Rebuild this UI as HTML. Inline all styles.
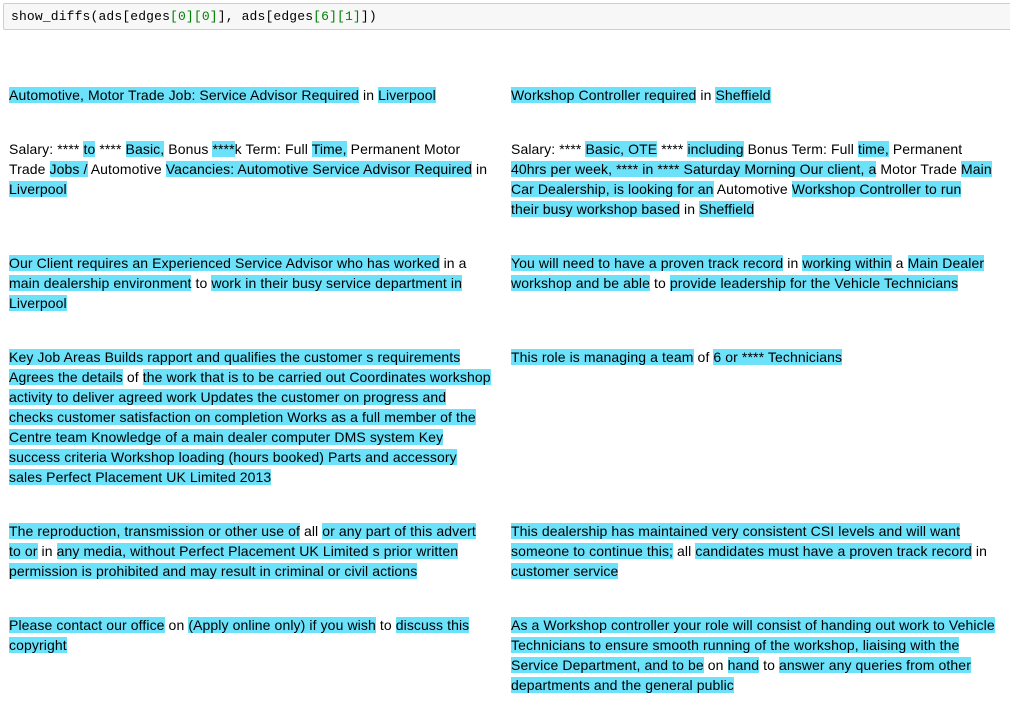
<!DOCTYPE html>
<html><head><meta charset="utf-8"><style>
body{margin:0;width:1010px;height:710px;background:#fff;overflow:hidden;position:relative;font-family:"Liberation Sans",Arial,sans-serif;font-size:14px;color:#000}
.code{position:absolute;left:3px;top:3px;width:1010px;height:27px;background:#f7f7f7;border:1px solid #cfcfcf;border-radius:2px;box-sizing:border-box;font-family:"Liberation Mono",monospace;font-size:13px;letter-spacing:0.15px;line-height:25px;padding-left:7px;color:#000}
.g{color:#008000}
.p{position:absolute;line-height:20px;white-space:nowrap;letter-spacing:0.1px}
.l{left:9px}.r{left:511px}
.h{background:#6ce1fa}
</style></head><body>
<div class="code">show_diffs(ads[edges<span class="g">[0]</span><span class="g">[0]</span>], ads[edges<span class="g">[6]</span><span class="g">[1]</span>])</div>

<div class="p l" style="top:85px"><span class="h">Automotive, Motor Trade Job: Service Advisor Required</span> in <span class="h">Liverpool</span></div>
<div class="p r" style="top:85px"><span class="h">Workshop Controller required</span> in <span class="h">Sheffield</span></div>

<div class="p l" style="top:139px">Salary: **** <span class="h">to</span> **** <span class="h">Basic,</span> Bonus <span class="h">****</span>k Term: Full <span class="h">Time,</span> Permanent Motor<br>Trade <span class="h">Jobs /</span> Automotive <span class="h">Vacancies: Automotive Service Advisor Required</span> in<br><span class="h">Liverpool</span></div>
<div class="p r" style="top:139px">Salary: **** <span class="h">Basic, OTE</span> **** <span class="h">including</span> Bonus Term: Full <span class="h">time,</span> Permanent<br><span class="h">40hrs per week, **** in **** Saturday Morning Our client, a</span> Motor Trade <span class="h">Main<br>Car Dealership, is looking for an</span> Automotive <span class="h">Workshop Controller to run<br>their busy workshop based</span> in <span class="h">Sheffield</span></div>

<div class="p l" style="top:253px"><span class="h">Our Client requires an Experienced Service Advisor who has worked</span> in a<br><span class="h">main dealership environment</span> to <span class="h">work in their busy service department in<br>Liverpool</span></div>
<div class="p r" style="top:253px"><span class="h">You will need to have a proven track record</span> in <span class="h">working within</span> a <span class="h">Main Dealer<br>workshop and be able</span> to <span class="h">provide leadership for the Vehicle Technicians</span></div>

<div class="p l" style="top:347px"><span class="h">Key Job Areas Builds rapport and qualifies the customer s requirements<br>Agrees the details</span> of <span class="h">the work that is to be carried out Coordinates workshop<br>activity to deliver agreed work Updates the customer on progress and<br>checks customer satisfaction on completion Works as a full member of the<br>Centre team Knowledge of a main dealer computer DMS system Key<br>success criteria Workshop loading (hours booked) Parts and accessory<br>sales Perfect Placement UK Limited 2013</span></div>
<div class="p r" style="top:347px"><span class="h">This role is managing a team</span> of <span class="h">6 or **** Technicians</span></div>

<div class="p l" style="top:521px"><span class="h">The reproduction, transmission or other use of</span> all <span class="h">or any part of this advert<br>to or</span> in <span class="h">any media, without Perfect Placement UK Limited s prior written<br>permission is prohibited and may result in criminal or civil actions</span></div>
<div class="p r" style="top:521px"><span class="h">This dealership has maintained very consistent CSI levels and will want<br>someone to continue this;</span> all <span class="h">candidates must have a proven track record</span> in<br><span class="h">customer service</span></div>

<div class="p l" style="top:615px"><span class="h">Please contact our office</span> on <span class="h">(Apply online only) if you wish</span> to <span class="h">discuss this<br>copyright</span></div>
<div class="p r" style="top:615px"><span class="h">As a Workshop controller your role will consist of handing out work to Vehicle<br>Technicians to ensure smooth running of the workshop, liaising with the<br>Service Department, and to be</span> on <span class="h">hand</span> to <span class="h">answer any queries from other<br>departments and the general public</span></div>
</body></html>
